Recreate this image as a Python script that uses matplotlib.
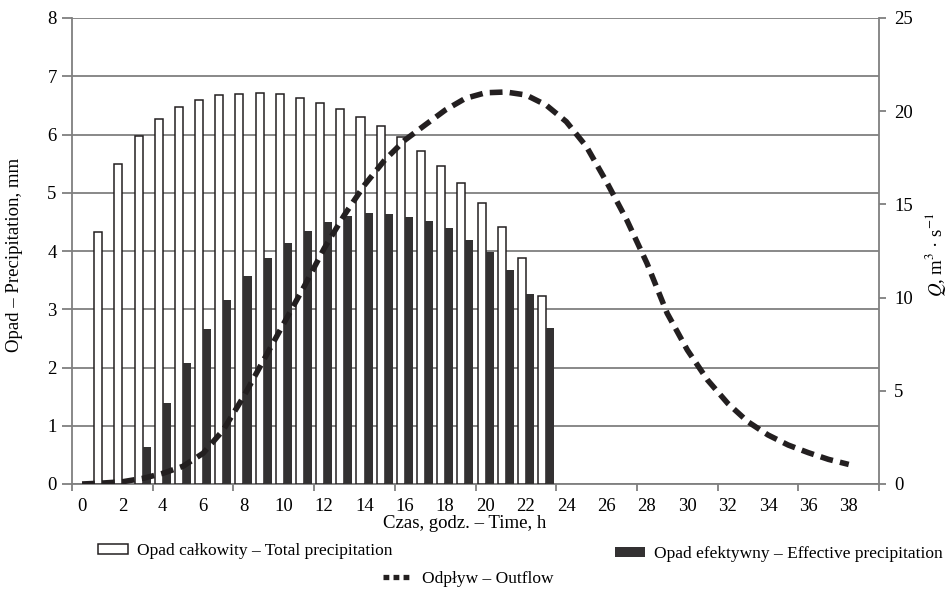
import numpy as np
import matplotlib
matplotlib.use("Agg")
import matplotlib.pyplot as plt
from matplotlib.lines import Line2D
from matplotlib.patches import Patch

plt.rcParams['font.family'] = ['Liberation Serif', 'DejaVu Serif']
plt.rcParams['mathtext.fontset'] = 'stix'

# hours 1..23 - precipitation [mm]
godz_opad = np.arange(1, 24)
opad_calk = [4.32, 5.49, 5.97, 6.27, 6.48, 6.59, 6.68, 6.70, 6.71, 6.69, 6.62, 6.54,
             6.43, 6.30, 6.14, 5.95, 5.71, 5.46, 5.17, 4.83, 4.41, 3.88, 3.22]
opad_efek = [0.0, 0.0, 0.63, 1.39, 2.07, 2.66, 3.16, 3.57, 3.88, 4.14, 4.34, 4.50,
             4.60, 4.65, 4.64, 4.58, 4.51, 4.39, 4.19, 3.98, 3.67, 3.26, 2.68]

# hours 0..38 - outflow Q [m3/s]
godz_q = np.arange(0, 39)
odplyw = [0.0, 0.05, 0.12, 0.3, 0.57, 0.95, 1.65, 2.9, 4.68, 6.65, 8.62, 10.58, 12.64,
          14.43, 16.04, 17.38, 18.45, 19.26, 20.06, 20.69, 20.99, 21.03, 20.87, 20.33,
          19.44, 18.1, 16.2, 14.16, 11.84, 9.16, 7.19, 5.58, 4.33, 3.34, 2.63, 2.09,
          1.68, 1.32, 1.05]

x_labels = [str(i) for i in range(0, 39, 2)]

szary = '#7f7f7f'
fs = 13.5
fs_leg = 12.5

fig = plt.figure(figsize=(9.5, 5.96), dpi=100)
ax = fig.add_axes([72/950, 1 - 484/596, (879 - 72)/950, (484 - 18)/596])
ax2 = ax.twinx()

w = 0.4
ax.bar(godz_opad - 0.2, opad_calk, width=w, color='white', edgecolor='#231f20',
       linewidth=1.1, zorder=3)
ax.bar(godz_opad + 0.2, opad_efek, width=w, color='#333132', edgecolor='none', zorder=3)

ax2.plot(godz_q, odplyw, color='#231f20', linewidth=4.0, dashes=(2.3, 1.3),
         solid_capstyle='butt', dash_capstyle='butt', zorder=4)

ax.set_xlim(-0.5, 39.5)
ax.set_ylim(0, 8)
ax2.set_ylim(0, 25)

ax.set_yticks(range(0, 9))
ax2.set_yticks(range(0, 26, 5))
ax.yaxis.grid(True, color=szary, linewidth=1.3, zorder=0)
ax.set_axisbelow(True)

ax.set_xticks(range(0, 39, 2))
ax.set_xticklabels(x_labels)
ax.set_xticks(np.arange(-0.5, 40, 4), minor=True)
ax.tick_params(axis='x', which='major', length=0, pad=10, labelsize=fs)
ax.tick_params(axis='x', which='minor', length=5, width=1.3, color=szary, direction='out')
ax.tick_params(axis='y', length=7, width=1.3, color=szary, direction='out', pad=4, labelsize=fs)
ax2.tick_params(axis='y', length=5, width=1.3, color=szary, direction='out', pad=6, labelsize=fs)

for a in (ax, ax2):
    a.spines['top'].set_visible(False)
    for s in ('left', 'right', 'bottom'):
        a.spines[s].set_color(szary)
        a.spines[s].set_linewidth(1.3)
ax.spines['right'].set_visible(False)
ax2.spines['left'].set_visible(False)
ax2.spines['bottom'].set_visible(False)

fig.text(465/950, 1 - 523/596, 'Czas, godz. – Time, h', ha='center', va='center', fontsize=fs)
fig.text(15/950, 1 - 255/596, 'Opad – Precipitation, mm', ha='center', va='center',
         rotation=90, fontsize=fs)
fig.text(935/950, 1 - 255/596, r'$Q$, m$^{3}$ · s$^{-1}$', ha='center', va='center',
         rotation=90, fontsize=fs)

h1 = Patch(facecolor='white', edgecolor='#231f20', linewidth=1.1)
h2 = Patch(facecolor='#333132', edgecolor='none')
h3 = Line2D([], [], color='#231f20', linewidth=3.8, dashes=(1.1, 0.8))

leg_kw = dict(frameon=False, fontsize=fs_leg, loc='center left', borderpad=0,
              borderaxespad=0, handlelength=1.75, handleheight=0.55, handletextpad=0.5)
fig.legend([h1], ['Opad całkowity – Total precipitation'],
           bbox_to_anchor=(98/950, 1 - 551/596), **leg_kw)
fig.legend([h2], ['Opad efektywny – Effective precipitation'],
           bbox_to_anchor=(615/950, 1 - 554/596), **leg_kw)
fig.legend([h3], ['Odpływ – Outflow'],
           bbox_to_anchor=(383/950, 1 - 579/596), **leg_kw)

fig.savefig('out.png', dpi=100)
